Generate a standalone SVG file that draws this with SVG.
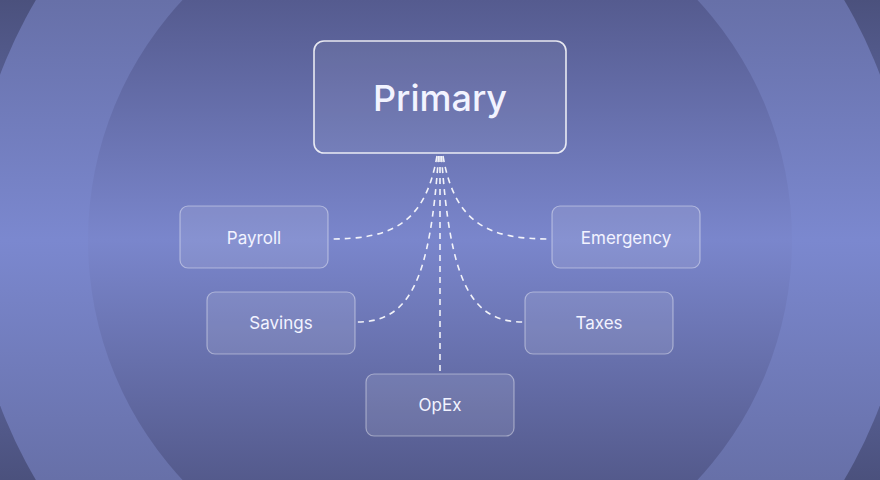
<svg xmlns="http://www.w3.org/2000/svg" width="880" height="480" viewBox="0 0 880 480">
<defs>
<linearGradient id="bg0" x1="0" y1="0" x2="0" y2="480" gradientUnits="userSpaceOnUse">
<stop offset="0" stop-color="#4b517d"/><stop offset="0.5" stop-color="#6a75b6"/><stop offset="1" stop-color="#4b517d"/>
</linearGradient>
<linearGradient id="bg1" x1="0" y1="0" x2="0" y2="480" gradientUnits="userSpaceOnUse">
<stop offset="0" stop-color="#6770a8"/><stop offset="0.5" stop-color="#7b88cf"/><stop offset="1" stop-color="#6770a8"/>
</linearGradient>
<linearGradient id="bg2" x1="0" y1="0" x2="0" y2="480" gradientUnits="userSpaceOnUse">
<stop offset="0" stop-color="#555b8f"/><stop offset="0.5" stop-color="#7a86cc"/><stop offset="1" stop-color="#545a8c"/>
</linearGradient>
<style>
.node rect{fill:#ffffff;fill-opacity:0.1;stroke:#ffffff;stroke-opacity:0.4;stroke-width:1.2}
.node text{font-family:Inter,"Noto Sans",sans-serif;font-size:17px;fill:#f2f3ff;text-anchor:middle;dominant-baseline:central}
#primary rect{fill-opacity:0.06;stroke-opacity:0.85;stroke-width:1.6}
#primary text{font-size:36px;font-weight:500}
.edge{fill:none;stroke:#ffffff;stroke-opacity:0.9;stroke-width:1.6;stroke-dasharray:6 5}
</style>
</defs>
<rect width="880" height="480" fill="url(#bg0)"/>
<circle cx="440" cy="240" r="470" fill="url(#bg1)"/>
<circle cx="440" cy="240" r="352" fill="url(#bg2)"/>
<g id="connectors">
<path class="edge" d="M437 156 C425 225 390 239 330 239"/>
<path class="edge" d="M438.5 156 C430 280 410 322 357 322"/>
<path class="edge" d="M440 156 L440 372"/>
<path class="edge" d="M441.5 156 C450 280 470 322 523 322"/>
<path class="edge" d="M443 156 C455 225 490 239 550 239"/>
</g>
<g id="primary" class="node"><rect x="314" y="41" width="252" height="112" rx="10"/><text x="440" y="98">Primary</text></g>
<g id="payroll" class="node"><rect x="180" y="206" width="148" height="62" rx="8"/><text x="254" y="238">Payroll</text></g>
<g id="savings" class="node"><rect x="207" y="292" width="148" height="62" rx="8"/><text x="281" y="323">Savings</text></g>
<g id="emergency" class="node"><rect x="552" y="206" width="148" height="62" rx="8"/><text x="626" y="238">Emergency</text></g>
<g id="taxes" class="node"><rect x="525" y="292" width="148" height="62" rx="8"/><text x="599" y="323">Taxes</text></g>
<g id="opex" class="node"><rect x="366" y="374" width="148" height="62" rx="8"/><text x="440" y="405">OpEx</text></g>
</svg>
